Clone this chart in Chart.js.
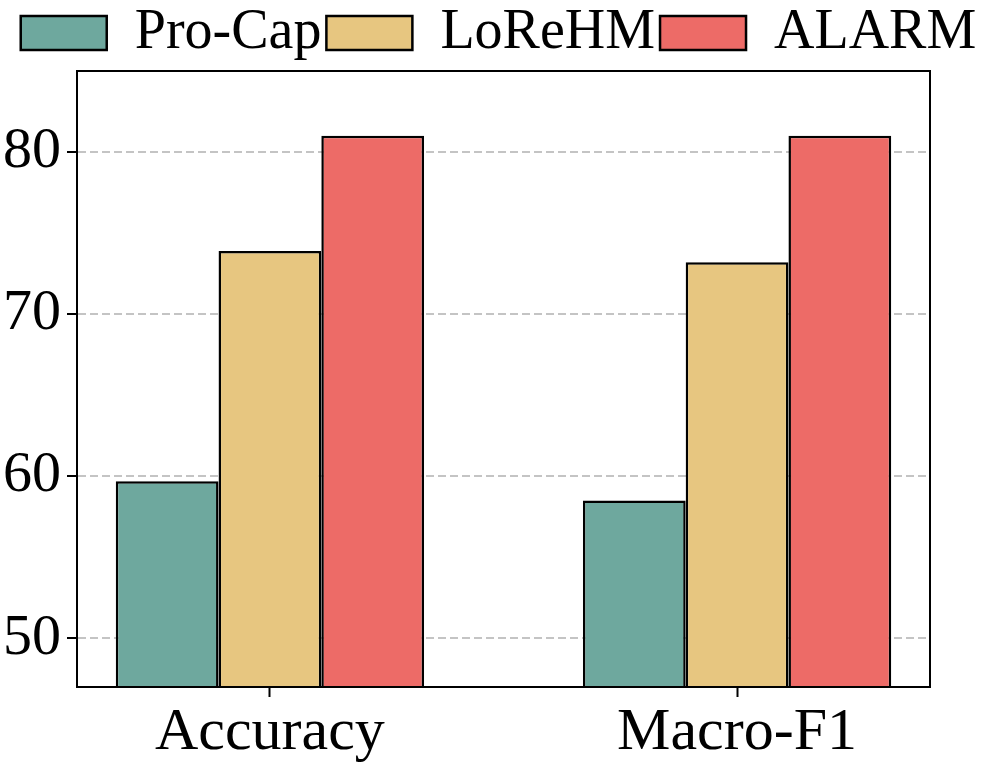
<!DOCTYPE html>
<html>
<head>
<meta charset="utf-8">
<script src="https://cdn.jsdelivr.net/npm/chart.js@4"></script>
<style>
  html, body { margin: 0; padding: 0; background: #fff; }
  #wrap { width: 997px; height: 762px; }
</style>
</head>
<body>
<div id="wrap"><canvas id="chart"></canvas></div>
<script>
// data
const categories = ['Accuracy', 'Macro-F1']
const proCap = [59.7, 58.5]
const loReHM = [73.9, 73.2]
const alarm = [81.0, 81.0]
const yTicks = [50, 60, 70, 80]

const serif = '"Liberation Serif", "DejaVu Serif", serif'

function toPoints(values) {
    return values.map((v, i) => ({ x: i, y: v }))
}

// black frame round the plot area
const frame = {
    id: 'frame',
    afterDraw(chart) {
        const a = chart.chartArea
        const ctx = chart.ctx
        ctx.save()
        ctx.strokeStyle = '#000'
        ctx.lineWidth = 2
        ctx.strokeRect(a.left, a.top, a.right - a.left, a.bottom - a.top)
        ctx.restore()
    }
}

new Chart(document.getElementById('chart'), {
    type: 'bar',
    data: {
        datasets: [
            { label: 'Pro-Cap', data: toPoints(proCap), backgroundColor: '#6ea89e', borderColor: '#000', borderWidth: 2.5 },
            { label: 'LoReHM', data: toPoints(loReHM), backgroundColor: '#e7c680', borderColor: '#000', borderWidth: 2.5 },
            { label: 'ALARM', data: toPoints(alarm), backgroundColor: '#ed6b67', borderColor: '#000', borderWidth: 2.5 }
        ]
    },
    options: {
        responsive: true,
        maintainAspectRatio: false,
        animation: false,
        categoryPercentage: 0.66,
        barPercentage: 1,
        layout: { padding: { top: 0, left: 0, right: 0, bottom: 0 } },
        plugins: {
            tooltip: { enabled: false },
            legend: {
                position: 'top',
                labels: {
                    color: '#000',
                    font: { family: serif, size: 56 },
                    boxWidth: 86,
                    boxHeight: 34,
                    padding: 5
                }
            }
        },
        scales: {
            x: {
                type: 'linear',
                min: -0.413,
                max: 1.413,
                offset: false,
                z: 1,
                afterBuildTicks(scale) {
                    scale.ticks = categories.map((c, i) => ({ value: i }))
                },
                afterFit(scale) { scale.height = 75 },
                ticks: {
                    color: '#000',
                    font: { family: serif, size: 60 },
                    padding: 0,
                    maxRotation: 0,
                    autoSkip: false,
                    callback: (v) => categories[v]
                },
                grid: { offset: false, drawOnChartArea: false, drawTicks: true, tickLength: 10, tickColor: '#000', tickWidth: 2 },
                border: { color: '#000', width: 2 }
            },
            y: {
                min: 47,
                max: 85,
                z: 1,
                afterBuildTicks(scale) {
                    scale.ticks = yTicks.map(v => ({ value: v }))
                },
                afterFit(scale) { scale.width = 77 },
                ticks: {
                    color: '#000',
                    font: { family: serif, size: 58 },
                    padding: 6
                },
                grid: {
                    color: '#c4c4c4',
                    lineWidth: 2,
                    tickColor: '#000',
                    tickWidth: 2,
                    tickLength: 10,
                    tickBorderDash: []
                },
                border: { color: '#000', width: 2, dash: [8, 4] }
            },
            right: {
                position: 'right',
                display: true,
                afterFit(scale) { scale.width = 67 },
                ticks: { display: false },
                grid: { display: false },
                border: { display: false }
            }
        }
    },
    plugins: [frame]
})
</script>
</body>
</html>
